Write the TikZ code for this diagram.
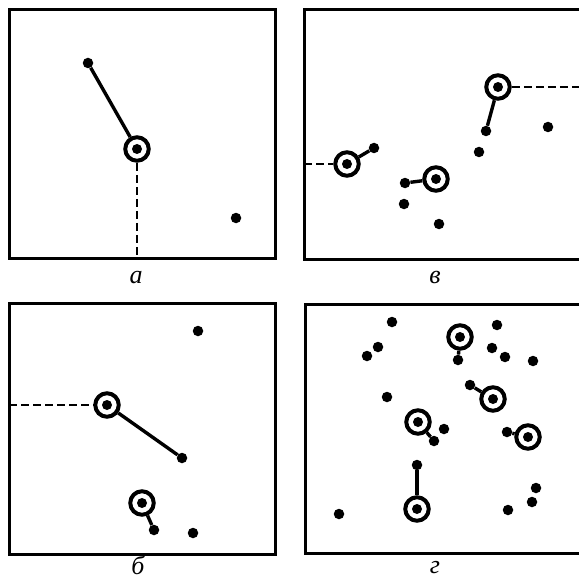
\documentclass[tikz,border=0pt]{standalone}
\usepackage{fontspec}
\setmainfont{Liberation Serif}
\usepackage{tikz}
\usetikzlibrary{positioning}
\tikzset{
  nndot/.style={circle,fill=black,inner sep=0pt,minimum size=10.5pt},
  nnring/.style={circle,draw=black,line width=4pt,inner sep=0pt,minimum size=23.5pt,fill=white,
    path picture={\fill[black] (path picture bounding box.center) circle (5pt);}},
  nnlink/.style={line width=3.4pt},
  nnopen/.style={line width=2.4pt,dash pattern=on 8pt off 4pt},
  nnframe/.style={line width=3pt},
  nnlabel/.style={font=\fontsize{26}{28}\selectfont\itshape,inner sep=0pt,anchor=base},
}
\begin{document}
\begin{tikzpicture}[x=1pt,y=-1pt]
\useasboundingbox (0,0) rectangle (579,580);
 % panel a
\draw[nnframe] (9.5,9.5) rectangle (275,258);
\node[nndot] (a1) at (88,63) {};
\node[nnring] (ac) at (137,149) {};
\node[nndot] (a2) at (236,218) {};
\coordinate (ae) at (137,258);
\draw[nnlink] (a1)--(ac); \draw[nnopen] (ac)--(ae);
\node[nnlabel] (la) at (136,283) {а};
 % panel v
\draw[nnframe] (579,10)--(304,10)--(304,259)--(579,259);
\node[nnring] (v1) at (347,164) {};
\node[nndot] (v1d) at (374,148) {};
\node[nnring] (v2) at (436,179) {};
\node[nndot] (v2d) at (405,183) {};
\node[nndot] (v3) at (404,204) {};
\node[nndot] (v4) at (439,224) {};
\node[nndot] (v5) at (479,152) {};
\node[nnring] (v6) at (498,87) {};
\node[nndot] (v6d) at (486,131) {};
\node[nndot] (v7) at (548,127) {};
\coordinate (vw) at (304,164); \coordinate (ve) at (579,87);
\draw[nnopen] (vw)--(v1); \draw[nnopen] (v6)--(ve);
\draw[nnlink] (v1)--(v1d); \draw[nnlink] (v2)--(v2d); \draw[nnlink] (v6)--(v6d);
\node[nnlabel] (lv) at (435,283) {в};
 % panel b
\draw[nnframe] (9,303) rectangle (275,554);
\node[nndot] (b1) at (198,331) {};
\node[nnring] (b2) at (107,405) {};
\node[nndot] (b2d) at (182,458) {};
\node[nnring] (b3) at (142,503) {};
\node[nndot] (b3d) at (154,530) {};
\node[nndot] (b4) at (193,533) {};
\coordinate (bw) at (9,405);
\draw[nnopen] (bw)--(b2);
\draw[nnlink] (b2)--(b2d); \draw[nnlink] (b3)--(b3d);
\node[nnlabel] (lb) at (138,574) {б};
 % panel g
\draw[nnframe] (579,304)--(305,304)--(305,553)--(579,553);
\foreach \px/\py [count=\i] in {392/322,378/347,367/356,497/325,492/348,505/357,533/361,387/397,444/429,339/514,536/488,532/502,508/510}
  \node[nndot] (g\i) at (\px,\py) {};
\node[nnring] (gA) at (460,337) {}; \node[nndot] (gAd) at (458,360) {};
\node[nnring] (gB) at (493,399) {}; \node[nndot] (gBd) at (470,385) {};
\node[nnring] (gC) at (418,422) {}; \node[nndot] (gCd) at (434,441) {};
\node[nnring] (gD) at (528,437) {}; \node[nndot] (gDd) at (507,432) {};
\node[nnring] (gE) at (417,509) {}; \node[nndot] (gEd) at (417,465) {};
\foreach \r in {A,B,C,D,E} \draw[nnlink] (g\r)--(g\r d);
\node[nnlabel] (lg) at (435,573) {г};
\end{tikzpicture}
\end{document}
